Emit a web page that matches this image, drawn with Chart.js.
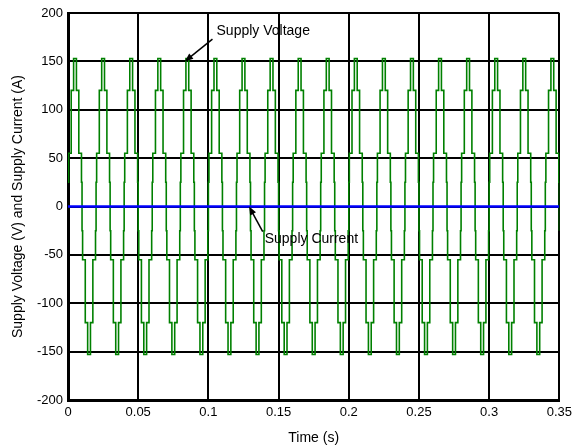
<!DOCTYPE html>
<html>
<head>
<meta charset="utf-8">
<title>Supply voltage and current</title>
<script src="https://cdn.jsdelivr.net/npm/chart.js@4"></script>
<style>
    html, body { margin: 0; padding: 0; background: #fff; }
    #wrap { width: 577px; height: 448px; position: relative; }
</style>
</head>
<body>
<div id="wrap"><canvas id="waveChart"></canvas></div>
<script>
// ── Waveform data (times in seconds, values in V / A) ──────────────────────
// start of each 50 Hz cycle
const cycleStarts = [0, 0.02, 0.04, 0.06, 0.08, 0.10, 0.12, 0.14, 0.16,
                     0.18, 0.20, 0.22, 0.24, 0.26, 0.28, 0.30, 0.32, 0.34];
// staircase switching instants inside one cycle and the level held after each
const stepOffsets = [0, 0.0004, 0.0023, 0.0040, 0.0060, 0.0077, 0.0096,
                     0.0100, 0.0104, 0.0123, 0.0140, 0.0160, 0.0177, 0.0196];
const stepLevels  = [25, 55, 120, 153, 120, 55, 25,
                     -25, -55, -120, -153, -120, -55, -25];
// supply current stays at zero over the whole run
const currentTimes  = [0, 0.35];
const currentValues = [0, 0];

const X_MIN = 0, X_MAX = 0.35, X_STEP = 0.05;
const Y_MIN = -200, Y_MAX = 200, Y_STEP = 50;

const FONT = "'Liberation Sans', Arial, sans-serif";

// build the stepped voltage series cycle by cycle
const voltagePoints = [];
cycleStarts.forEach(t0 => {
    stepOffsets.forEach((dt, i) => {
        const t = +(t0 + dt).toFixed(5);
        if (t <= X_MAX) voltagePoints.push({ x: t, y: stepLevels[i] });
    });
});
voltagePoints.push({ x: X_MAX, y: voltagePoints[voltagePoints.length - 1].y });

const currentPoints = currentTimes.map((t, i) => ({ x: t, y: currentValues[i] }));

// ── Labels with arrows pointing at the traces ───────────────────────────────
const callouts = [
    { text: 'Supply Voltage', tx: 0.1058, ty: 181.5, fromX: 0.1029, fromY: 173, toX: 0.0832, toY: 150 },
    { text: 'Supply Current', tx: 0.1401, ty: -33.5, fromX: 0.1387, fromY: -26, toX: 0.1290, toY: 0 }
];

const calloutPlugin = {
    id: 'callouts',
    afterDatasetsDraw(chart) {
        const { ctx, scales: { x, y } } = chart;
        ctx.save();
        ctx.fillStyle = '#000';
        ctx.strokeStyle = '#000';
        ctx.lineWidth = 1.5;
        ctx.font = '14px ' + FONT;
        ctx.textBaseline = 'middle';
        ctx.textAlign = 'left';
        callouts.forEach(c => {
            const x1 = x.getPixelForValue(c.fromX), y1 = y.getPixelForValue(c.fromY);
            const x2 = x.getPixelForValue(c.toX),   y2 = y.getPixelForValue(c.toY);
            const ang = Math.atan2(y2 - y1, x2 - x1);
            const head = 9, spread = 0.38;
            ctx.beginPath();
            ctx.moveTo(x1, y1);
            ctx.lineTo(x2 - Math.cos(ang) * head * 0.8, y2 - Math.sin(ang) * head * 0.8);
            ctx.stroke();
            ctx.beginPath();
            ctx.moveTo(x2, y2);
            ctx.lineTo(x2 - head * Math.cos(ang - spread), y2 - head * Math.sin(ang - spread));
            ctx.lineTo(x2 - head * Math.cos(ang + spread), y2 - head * Math.sin(ang + spread));
            ctx.closePath();
            ctx.fill();
            ctx.fillText(c.text, x.getPixelForValue(c.tx), y.getPixelForValue(c.ty));
        });
        ctx.restore();
    }
};

new Chart(document.getElementById('waveChart'), {
    type: 'line',
    data: {
        datasets: [
            {
                label: 'Supply Current',
                data: currentPoints,
                borderColor: '#0000ff',
                borderWidth: 2.5,
                pointRadius: 0,
                order: 0
            },
            {
                label: 'Supply Voltage',
                data: voltagePoints,
                borderColor: '#008000',
                borderWidth: 1.6,
                pointRadius: 0,
                stepped: true,
                order: 1
            }
        ]
    },
    options: {
        responsive: true,
        maintainAspectRatio: false,
        animation: false,
        events: [],
        layout: { padding: { top: 13, right: 16, left: 0, bottom: 0 } },
        plugins: {
            legend: { display: false },
            tooltip: { enabled: false }
        },
        scales: {
            x: {
                type: 'linear',
                min: X_MIN,
                max: X_MAX,
                afterFit: s => { s.height = 48; },
                ticks: {
                    stepSize: X_STEP,
                    padding: 5,
                    color: '#000',
                    font: { family: FONT, size: 13 },
                    maxRotation: 0,
                    callback: v => String(+v.toFixed(2))
                },
                grid: { color: '#000', lineWidth: 2, drawTicks: false },
                border: { color: '#000', width: 3 },
                title: {
                    display: true,
                    text: 'Time (s)',
                    color: '#000',
                    font: { family: FONT, size: 14 },
                    padding: { top: 0, bottom: 1 }
                }
            },
            y: {
                type: 'linear',
                min: Y_MIN,
                max: Y_MAX,
                afterFit: s => { s.width = 68; },
                ticks: {
                    stepSize: Y_STEP,
                    padding: 5,
                    color: '#000',
                    font: { family: FONT, size: 13 }
                },
                grid: { color: '#000', lineWidth: 2, drawTicks: false },
                border: { color: '#000', width: 3 },
                title: {
                    display: true,
                    text: 'Supply Voltage (V) and Supply Current (A)',
                    color: '#000',
                    font: { family: FONT, size: 14 },
                    padding: { top: 10, bottom: 0 }
                }
            }
        }
    },
    plugins: [calloutPlugin]
});
</script>
</body>
</html>
